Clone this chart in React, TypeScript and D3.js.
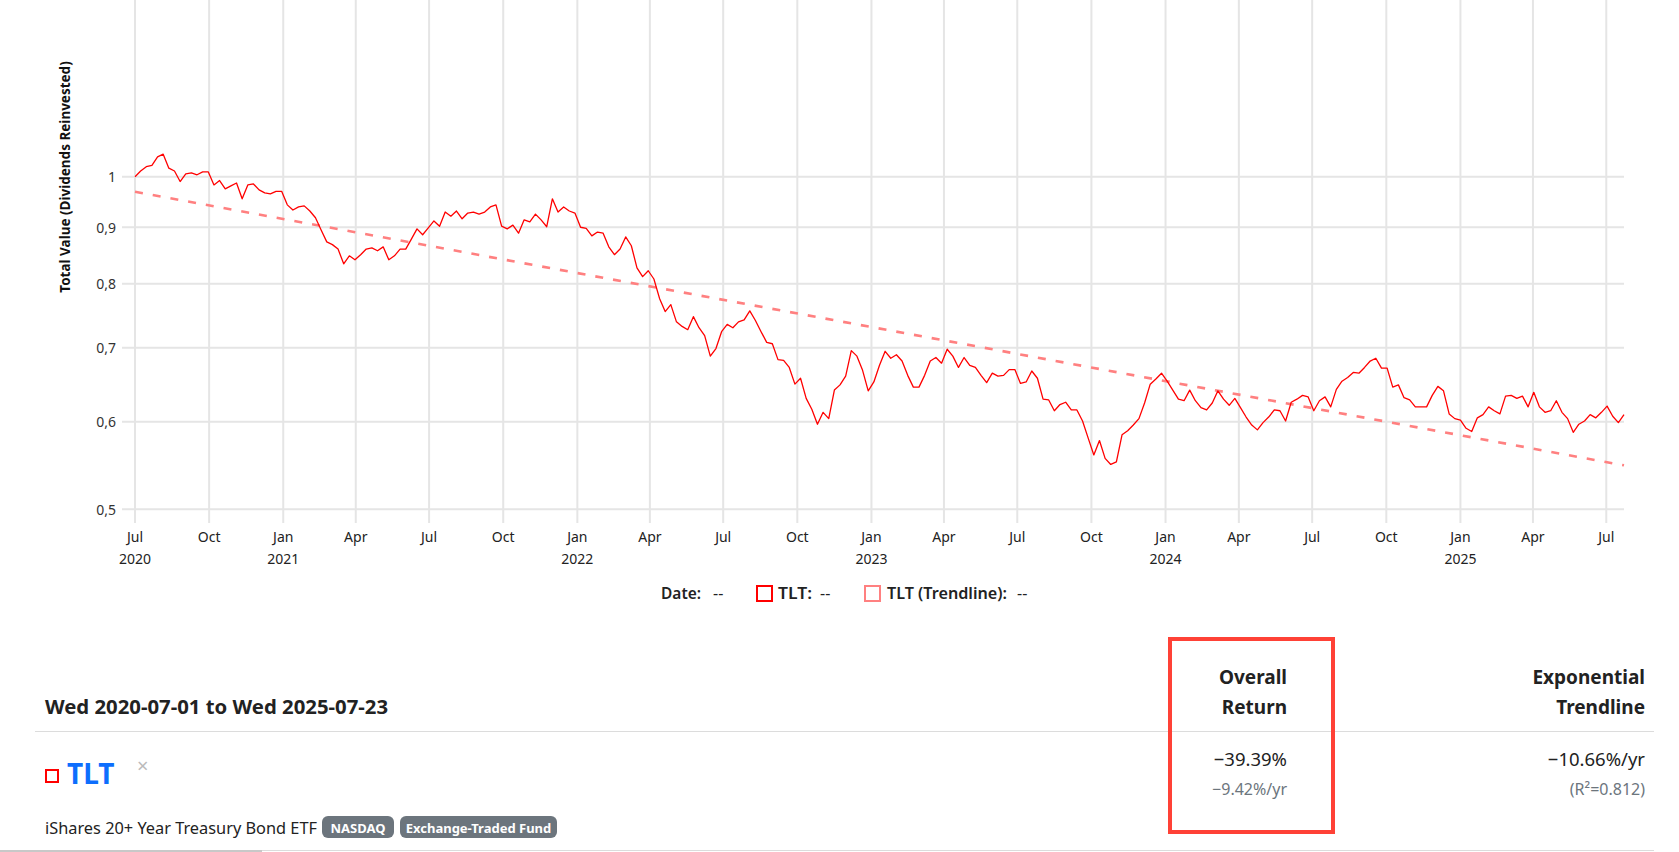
// TLT total-value chart (log scale) with summary table underneath.
import * as d3 from "d3";

// ─── Data ─────────────────────────────────────────────────────────────────────

const START = "2020-07-01";
const END = "2025-07-23";

// weekly closes (Wednesdays), total value with dividends reinvested
const tltValues = [
  1.000, 1.012, 1.021, 1.024, 1.042, 1.048, 1.018, 1.012, 0.990, 1.006,
  1.008, 1.004, 1.010, 1.010, 0.983, 0.992, 0.975, 0.981, 0.987, 0.955,
  0.983, 0.985, 0.973, 0.967, 0.965, 0.970, 0.970, 0.943, 0.933, 0.939,
  0.941, 0.931, 0.918, 0.895, 0.873, 0.868, 0.860, 0.834, 0.848, 0.841,
  0.850, 0.860, 0.862, 0.857, 0.864, 0.841, 0.848, 0.860, 0.860, 0.878,
  0.897, 0.886, 0.899, 0.912, 0.902, 0.929, 0.921, 0.931, 0.916, 0.927,
  0.929, 0.925, 0.929, 0.939, 0.943, 0.902, 0.897, 0.904, 0.889, 0.914,
  0.910, 0.925, 0.914, 0.901, 0.955, 0.929, 0.939, 0.931, 0.927, 0.900,
  0.898, 0.884, 0.891, 0.889, 0.864, 0.850, 0.860, 0.882, 0.866, 0.827,
  0.812, 0.822, 0.808, 0.776, 0.755, 0.766, 0.739, 0.732, 0.727, 0.747,
  0.730, 0.718, 0.688, 0.699, 0.724, 0.735, 0.730, 0.739, 0.742, 0.756,
  0.741, 0.724, 0.708, 0.706, 0.683, 0.682, 0.672, 0.649, 0.657, 0.630,
  0.616, 0.597, 0.612, 0.604, 0.641, 0.648, 0.660, 0.696, 0.688, 0.668,
  0.640, 0.652, 0.675, 0.695, 0.685, 0.690, 0.681, 0.661, 0.645, 0.645,
  0.661, 0.681, 0.686, 0.678, 0.698, 0.688, 0.672, 0.686, 0.675, 0.672,
  0.661, 0.651, 0.664, 0.660, 0.661, 0.669, 0.669, 0.650, 0.652, 0.667,
  0.657, 0.629, 0.628, 0.614, 0.622, 0.625, 0.615, 0.615, 0.601, 0.580,
  0.560, 0.577, 0.556, 0.549, 0.552, 0.584, 0.589, 0.596, 0.604, 0.624,
  0.649, 0.656, 0.664, 0.653, 0.641, 0.629, 0.627, 0.641, 0.627, 0.618,
  0.615, 0.624, 0.640, 0.629, 0.621, 0.630, 0.618, 0.606, 0.596, 0.590,
  0.599, 0.606, 0.615, 0.614, 0.601, 0.625, 0.629, 0.634, 0.632, 0.614,
  0.627, 0.632, 0.619, 0.642, 0.653, 0.658, 0.665, 0.664, 0.672, 0.681,
  0.685, 0.671, 0.671, 0.645, 0.648, 0.631, 0.628, 0.619, 0.619, 0.619,
  0.634, 0.646, 0.640, 0.610, 0.604, 0.602, 0.592, 0.588, 0.605, 0.609,
  0.619, 0.614, 0.610, 0.633, 0.634, 0.630, 0.633, 0.619, 0.638, 0.619,
  0.612, 0.614, 0.627, 0.612, 0.604, 0.587, 0.597, 0.601, 0.609, 0.605,
  0.612, 0.620, 0.607, 0.599, 0.609,
];

const trendDates = [START, END];
const trendValues = [0.969, 0.548];

const yTickValues = [0.5, 0.6, 0.7, 0.8, 0.9, 1];
const yTickLabels = ["0,5", "0,6", "0,7", "0,8", "0,9", "1"];

const legendLabels = ["Date:", "TLT:", "TLT (Trendline):"];
const headerCols = [["Overall", "Return"], ["Exponential", "Trendline"]];
const mainValues = ["\u221239.39%", "\u221210.66%/yr"];
const subValues = ["\u22129.42%/yr", "(R\u00b2=0.812)"];

// ─── Layout ───────────────────────────────────────────────────────────────────

const W = 1679;
const H = 852;
const PLOT = { left: 135, right: 1624, gridTop: 0, gridBottom: 523, tickLeft: 122 };
const FONT = "'Segoe UI', 'Noto Sans', 'Open Sans', sans-serif";
const GRID = "#e5e5e5";
const RED = "#ff0000";
const TREND = "#ff8080";
const COL_X = [1287, 1645];

const parse = d3.utcParse("%Y-%m-%d");

export default function App() {
  const t0 = parse(START)!;
  const t1 = parse(END)!;

  const x = d3.scaleUtc().domain([t0, t1]).range([PLOT.left, PLOT.right]);
  const y = d3.scaleLog().domain([0.5, 1]).range([509.3, 176.7]);

  const weekly = tltValues.map((v, i) => ({
    date: d3.utcDay.offset(t0, i * 7),
    value: v,
  }));
  const trend = trendDates.map((d, i) => ({ date: parse(d)!, value: trendValues[i] }));

  const line = d3
    .line<{ date: Date; value: number }>()
    .x((d) => x(d.date))
    .y((d) => y(d.value));

  const xTicks = d3.utcMonth.every(3)!.range(t0, d3.utcDay.offset(t1, 1));
  const fmtMonth = d3.utcFormat("%b");
  const fmtYear = d3.utcFormat("%Y");

  return (
    <div style={{ position: "absolute", left: 0, top: 0, width: W, height: H, background: "#fff" }}>
      <svg width={W} height={H} style={{ display: "block", fontFamily: FONT }}>
        {/* ── Grid ── */}
        {xTicks.map((d) => (
          <line
            key={"gx" + d.toISOString()}
            x1={x(d)}
            x2={x(d)}
            y1={PLOT.gridTop}
            y2={PLOT.gridBottom}
            stroke={GRID}
            strokeWidth={2}
          />
        ))}
        {yTickValues.map((v) => (
          <line
            key={"gy" + v}
            x1={PLOT.tickLeft}
            x2={PLOT.right}
            y1={y(v)}
            y2={y(v)}
            stroke={GRID}
            strokeWidth={2}
          />
        ))}

        {/* ── Axis labels ── */}
        {yTickValues.map((v, i) => (
          <text
            key={"ty" + v}
            x={116}
            y={y(v)}
            textAnchor="end"
            dominantBaseline="central"
            fontSize={14}
            fill="#333"
          >
            {yTickLabels[i]}
          </text>
        ))}
        {xTicks.map((d, i) => (
          <g key={"tx" + d.toISOString()} fontSize={14} fill="#222" textAnchor="middle">
            <text x={x(d)} y={536} dominantBaseline="central">
              {fmtMonth(d)}
            </text>
            {(i === 0 || d.getUTCMonth() === 0) && (
              <text x={x(d)} y={558} dominantBaseline="central">
                {fmtYear(d)}
              </text>
            )}
          </g>
        ))}
        <text
          transform="translate(65,177) rotate(-90)"
          textAnchor="middle"
          dominantBaseline="central"
          fontSize={13.5}
          fontWeight={700}
          fill="#111"
        >
          Total Value (Dividends Reinvested)
        </text>

        {/* ── Series ── */}
        <path
          d={line(trend) ?? ""}
          fill="none"
          stroke={TREND}
          strokeWidth={2.6}
          strokeDasharray="8,10"
        />
        <path d={line(weekly) ?? ""} fill="none" stroke={RED} strokeWidth={1.3} strokeLinejoin="round" />

        {/* ── Legend ── */}
        <g fontSize={16} fill="#222" dominantBaseline="central">
          <text x={661} y={593} fontWeight={600} textLength={40} lengthAdjust="spacingAndGlyphs">
            {legendLabels[0]}
          </text>
          <text x={713} y={593}>--</text>
          <rect x={757} y={586} width={15} height={15} fill="none" stroke={RED} strokeWidth={2} />
          <text x={778} y={593} fontWeight={600} textLength={34} lengthAdjust="spacingAndGlyphs">
            {legendLabels[1]}
          </text>
          <text x={820} y={593}>--</text>
          <rect x={865} y={586} width={15} height={15} fill="none" stroke={TREND} strokeWidth={2} />
          <text x={887} y={593} fontWeight={600} textLength={120} lengthAdjust="spacingAndGlyphs">
            {legendLabels[2]}
          </text>
          <text x={1017} y={593}>--</text>
        </g>

        {/* ── Summary table ── */}
        <text
          x={45}
          y={707}
          fontSize={19}
          fontWeight={700}
          fill="#222"
          dominantBaseline="central"
          textLength={343}
          lengthAdjust="spacingAndGlyphs"
        >
          Wed 2020-07-01 to Wed 2025-07-23
        </text>
        {headerCols.map((col, i) => (
          <g key={"h" + i} fontSize={19} fontWeight={700} fill="#222" textAnchor="end">
            <text x={COL_X[i]} y={677} dominantBaseline="central">{col[0]}</text>
            <text x={COL_X[i]} y={707} dominantBaseline="central">{col[1]}</text>
          </g>
        ))}
        <line x1={35} x2={1654} y1={731.5} y2={731.5} stroke="#dcdcdc" strokeWidth={1} />

        <rect x={46} y={770} width={12} height={12} fill="none" stroke={RED} strokeWidth={2} />
        <text x={67} y={773} fontSize={28} fontWeight={700} fill="#0d6efd" dominantBaseline="central">
          TLT
        </text>
        <text x={137} y={765} fontSize={20} fill="#bbb" dominantBaseline="central">×</text>

        {mainValues.map((v, i) => (
          <text
            key={"mv" + i}
            x={COL_X[i]}
            y={758}
            fontSize={18.5}
            fill="#222"
            textAnchor="end"
            dominantBaseline="central"
          >
            {v}
          </text>
        ))}
        {subValues.map((v, i) => (
          <text
            key={"sv" + i}
            x={COL_X[i]}
            y={789}
            fontSize={16}
            fill="#6c757d"
            textAnchor="end"
            dominantBaseline="central"
          >
            {v}
          </text>
        ))}

        <text
          x={45}
          y={827}
          fontSize={17}
          fill="#222"
          dominantBaseline="central"
          textLength={272}
          lengthAdjust="spacingAndGlyphs"
        >
          iShares 20+ Year Treasury Bond ETF
        </text>
        <rect x={322} y={816} width={72} height={22} rx={6} fill="#6c757d" />
        <text x={358} y={827.5} fontSize={13} fontWeight={700} fill="#fff" textAnchor="middle" dominantBaseline="central">
          NASDAQ
        </text>
        <rect x={400} y={816} width={157} height={22} rx={6} fill="#6c757d" />
        <text x={478.5} y={827.5} fontSize={13} fontWeight={700} fill="#fff" textAnchor="middle" dominantBaseline="central">
          Exchange-Traded Fund
        </text>
        <line x1={35} x2={1654} y1={850.5} y2={850.5} stroke="#dcdcdc" strokeWidth={1} />
        <line x1={0} x2={262} y1={851} y2={851} stroke="#c8c8c8" strokeWidth={2} />

        {/* highlight box round the Overall Return column */}
        <rect x={1170} y={639} width={163} height={193} fill="none" stroke="#ff4136" strokeWidth={4} />
      </svg>
    </div>
  );
}
